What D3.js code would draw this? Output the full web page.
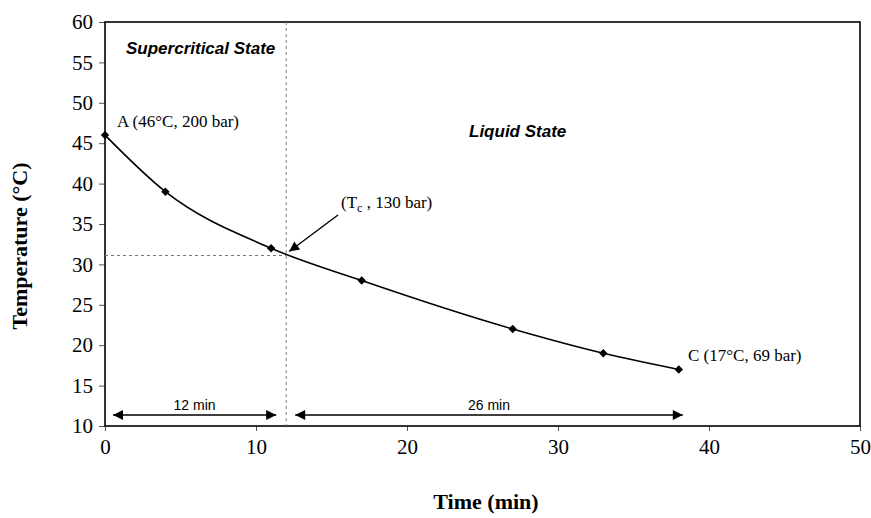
<!DOCTYPE html>
<html>
<head>
<meta charset="utf-8">
<script src="https://cdn.jsdelivr.net/npm/d3@7"></script>
<style>
  html, body { margin: 0; padding: 0; background: #fff; }
  svg { display: block; }
</style>
</head>
<body>
<svg id="chart" width="871" height="518"></svg>
<script>
// Cooling path: temperature over time
const timeMin = [0, 4, 11, 17, 27, 33, 38];
const tempC = [46, 39, 32, 28, 22, 19, 17];
const xTicks = [0, 10, 20, 30, 40, 50];
const yTicks = [10, 15, 20, 25, 30, 35, 40, 45, 50, 55, 60];
const criticalTime = 12;   // min, when the critical temperature is reached
const criticalTemp = 31.1; // °C
const endTime = 38;

(function () {
const svg = d3.select("#chart");
const plotL = 105, plotR = 860, plotT = 22, plotB = 426;

const x = d3.scaleLinear().domain([0, 50]).range([plotL, plotR]);
const y = d3.scaleLinear().domain([10, 60]).range([plotB, plotT]);

const serif = "'Liberation Serif', 'Times New Roman', serif";
const sans = "'Liberation Sans', Arial, sans-serif";

// arrowhead markers
const defs = svg.append("defs");
defs.append("marker").attr("id", "ah").attr("viewBox", "0 0 10 10")
  .attr("refX", 10).attr("refY", 5).attr("markerWidth", 11).attr("markerHeight", 10)
  .attr("markerUnits", "userSpaceOnUse").attr("orient", "auto-start-reverse")
  .append("path").attr("d", "M0,0 L10,5 L0,10 z").attr("fill", "#000");
defs.append("marker").attr("id", "ah2").attr("viewBox", "0 0 10 10")
  .attr("refX", 10).attr("refY", 5).attr("markerWidth", 12).attr("markerHeight", 10)
  .attr("markerUnits", "userSpaceOnUse").attr("orient", "auto")
  .append("path").attr("d", "M0,0 L10,5 L0,10 z").attr("fill", "#000");

// axes
const xAxis = svg.append("g").attr("transform", `translate(0,${plotB})`)
  .call(d3.axisBottom(x).tickValues(xTicks).tickSize(5).tickPadding(8));
const yAxis = svg.append("g").attr("transform", `translate(${plotL},0)`)
  .call(d3.axisLeft(y).tickValues(yTicks).tickSize(6).tickPadding(6));
[xAxis, yAxis].forEach(a => {
  a.selectAll("text").attr("font-family", serif).attr("font-size", 21).attr("fill", "#000");
  a.selectAll("line").attr("stroke", "#555");
  a.select(".domain").remove();
});

// plot frame
svg.append("rect").attr("x", plotL).attr("y", plotT)
  .attr("width", plotR - plotL).attr("height", plotB - plotT)
  .attr("fill", "none").attr("stroke", "#000").attr("stroke-width", 1.6);

// critical point guides
svg.append("line")
  .attr("x1", x(criticalTime)).attr("x2", x(criticalTime))
  .attr("y1", y(60)).attr("y2", y(10))
  .attr("stroke", "#777").attr("stroke-width", 1).attr("stroke-dasharray", "3,3");
svg.append("line")
  .attr("x1", x(0)).attr("x2", x(criticalTime))
  .attr("y1", y(criticalTemp)).attr("y2", y(criticalTemp))
  .attr("stroke", "#777").attr("stroke-width", 1).attr("stroke-dasharray", "3,3");

// temperature curve
const pts = timeMin.map((t, i) => [t, tempC[i]]);
svg.append("path").datum(pts)
  .attr("d", d3.line().x(d => x(d[0])).y(d => y(d[1])).curve(d3.curveMonotoneX))
  .attr("fill", "none").attr("stroke", "#000").attr("stroke-width", 1.6);

svg.selectAll(".pt").data(pts).enter().append("path")
  .attr("transform", d => `translate(${x(d[0])},${y(d[1])})`)
  .attr("d", d3.symbol().type(d3.symbolDiamond2).size(45))
  .attr("fill", "#000");

// state labels
svg.append("text").attr("x", 126).attr("y", 54)
  .attr("font-family", sans).attr("font-size", 17).attr("font-weight", "bold")
  .attr("font-style", "italic").text("Supercritical State");
svg.append("text").attr("x", 469).attr("y", 137)
  .attr("font-family", sans).attr("font-size", 17).attr("font-weight", "bold")
  .attr("font-style", "italic").text("Liquid State");

// point annotations
svg.append("text").attr("x", 117).attr("y", 127)
  .attr("font-family", serif).attr("font-size", 17).text("A (46°C, 200 bar)");
svg.append("text").attr("x", 688).attr("y", 361)
  .attr("font-family", serif).attr("font-size", 17).text("C (17°C, 69 bar)");

const tc = svg.append("text").attr("x", 341).attr("y", 208)
  .attr("font-family", serif).attr("font-size", 17);
tc.append("tspan").text("(T");
tc.append("tspan").attr("font-size", 12).attr("dy", 4).text("c");
tc.append("tspan").attr("dy", -4).text(" , 130 bar)");

svg.append("line")
  .attr("x1", 338).attr("y1", 215)
  .attr("x2", x(criticalTime) + 3).attr("y2", y(criticalTemp) - 4)
  .attr("stroke", "#000").attr("stroke-width", 1.4).attr("marker-end", "url(#ah2)");

// duration arrows
const arrowY = 415;
function span(x1, x2, label) {
  svg.append("line").attr("x1", x1).attr("x2", x2).attr("y1", arrowY).attr("y2", arrowY)
    .attr("stroke", "#000").attr("stroke-width", 1.3)
    .attr("marker-start", "url(#ah)").attr("marker-end", "url(#ah)");
  svg.append("text").attr("x", (x1 + x2) / 2).attr("y", arrowY - 5)
    .attr("text-anchor", "middle").attr("font-family", sans).attr("font-size", 14)
    .text(label);
}
span(x(0) + 8, x(criticalTime) - 10, "12 min");
span(x(criticalTime) + 9, x(endTime) + 4, "26 min");

// axis titles
svg.append("text").attr("x", 486).attr("y", 509).attr("text-anchor", "middle")
  .attr("font-family", serif).attr("font-size", 22).attr("font-weight", "bold")
  .text("Time (min)");
svg.append("text").attr("transform", "translate(27,246) rotate(-90)")
  .attr("text-anchor", "middle")
  .attr("font-family", serif).attr("font-size", 22).attr("font-weight", "bold")
  .text("Temperature (°C)");
})();
</script>
</body>
</html>
